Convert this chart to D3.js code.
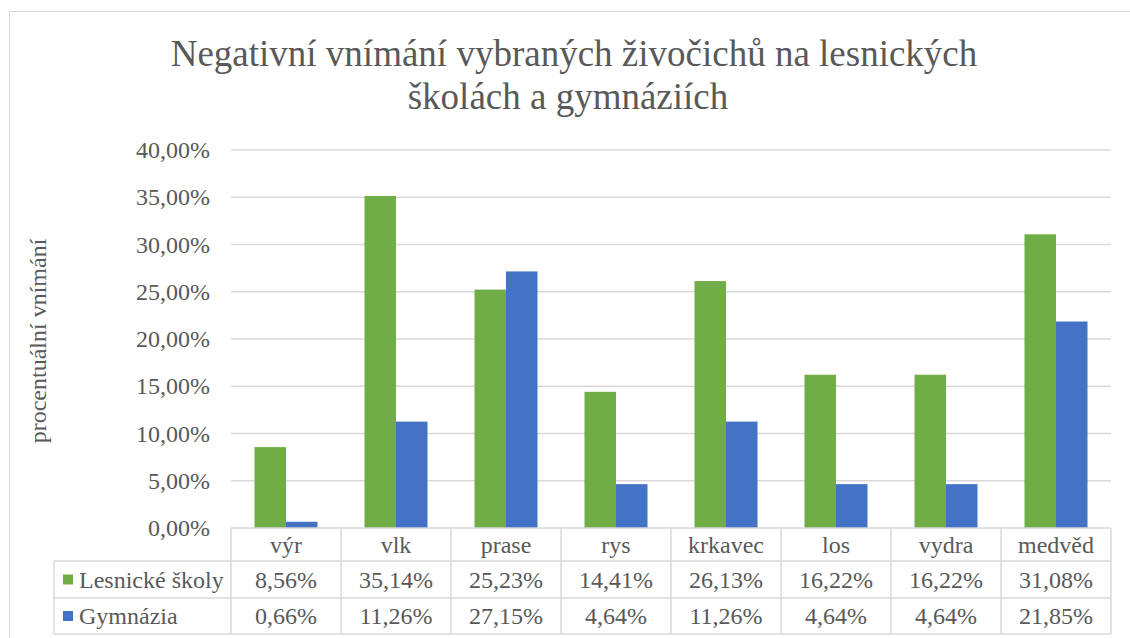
<!DOCTYPE html>
<html>
<head>
<meta charset="utf-8">
<script src="https://cdn.jsdelivr.net/npm/d3@7"></script>
<style>
  body { margin: 0; background: #fff; }
</style>
</head>
<body>
<div id="chart"></div>
<script>
const categories = ["výr", "vlk", "prase", "rys", "krkavec", "los", "vydra", "medvěd"];
const lesnicke = [8.56, 35.14, 25.23, 14.41, 26.13, 16.22, 16.22, 31.08];
const gymnazia = [0.66, 11.26, 27.15, 4.64, 11.26, 4.64, 4.64, 21.85];
const seriesNames = ["Lesnické školy", "Gymnázia"];
const seriesColors = ["#70ad47", "#4472c4"];
const yTicks = [0, 5, 10, 15, 20, 25, 30, 35, 40];

const W = 1130, H = 638;
const plotLeft = 231, plotRight = 1111, plotTop = 150, plotBottom = 528;
const fmt = v => v.toFixed(2).replace(".", ",") + "%";

const svg = d3.select("#chart").append("svg")
  .attr("width", W).attr("height", H);

function label(sel, size) {
  return sel.attr("font-family", "Liberation Serif").attr("font-size", size).attr("fill", "#595959");
}

// outer chart border
svg.append("rect")
  .attr("x", 9.5).attr("y", 11.5)
  .attr("width", W).attr("height", H)
  .attr("fill", "none").attr("stroke", "#d9d9d9");

// title
label(svg.append("text"), 37)
  .attr("x", 574).attr("y", 66)
  .attr("text-anchor", "middle")
  .text("Negativní vnímání vybraných živočichů na lesnických");
label(svg.append("text"), 37)
  .attr("x", 568).attr("y", 109)
  .attr("text-anchor", "middle")
  .text("školách a gymnáziích");

const x = d3.scaleBand().domain(categories).range([plotLeft, plotRight]);
const y = d3.scaleLinear().domain([0, 40]).range([plotBottom, plotTop]);
const barW = 31.5;

// gridlines
svg.append("g").selectAll("line").data(yTicks.filter(d => d > 0)).join("line")
  .attr("x1", plotLeft).attr("x2", plotRight)
  .attr("y1", d => y(d)).attr("y2", d => y(d))
  .attr("stroke", "#d9d9d9").attr("stroke-width", 1.5);

// y tick labels
label(svg.append("g").selectAll("text").data(yTicks).join("text"), 24)
  .attr("x", 210).attr("y", d => y(d) + 8)
  .attr("text-anchor", "end")
  .text(d => fmt(d));

// y axis title
label(svg.append("text"), 24)
  .attr("transform", "translate(46,341) rotate(-90)")
  .attr("text-anchor", "middle")
  .text("procentuální vnímání");

// bars
const series = [lesnicke, gymnazia];
series.forEach((vals, si) => {
  svg.append("g").selectAll("rect").data(vals).join("rect")
    .attr("x", (d, i) => x(categories[i]) + x.bandwidth() / 2 - barW + si * barW)
    .attr("y", d => y(d))
    .attr("width", barW)
    .attr("height", d => plotBottom - y(d))
    .attr("fill", seriesColors[si]);
});

// data table
const rowY = [528, 561, 598, 634];
const legendLeft = 54;
const grid = svg.append("g").attr("stroke", "#d9d9d9").attr("stroke-width", 1.5);
grid.append("line").attr("x1", plotLeft).attr("x2", plotRight).attr("y1", rowY[0]).attr("y2", rowY[0]);
rowY.slice(1).forEach(ry => {
  grid.append("line").attr("x1", legendLeft).attr("x2", plotRight).attr("y1", ry).attr("y2", ry);
});
grid.append("line").attr("x1", legendLeft).attr("x2", legendLeft).attr("y1", rowY[1]).attr("y2", rowY[3]);
const colEdges = categories.map(c => x(c)).concat([plotRight]);
grid.selectAll(".v").data(colEdges).join("line")
  .attr("x1", d => d).attr("x2", d => d)
  .attr("y1", rowY[0]).attr("y2", rowY[3]);

// header
label(svg.append("g").selectAll("text").data(categories).join("text"), 24)
  .attr("x", d => x(d) + x.bandwidth() / 2).attr("y", 553)
  .attr("text-anchor", "middle")
  .text(d => d);

// rows
series.forEach((vals, si) => {
  const cy = (rowY[si + 1] + rowY[si + 2]) / 2;
  svg.append("rect")
    .attr("x", 63).attr("y", cy - 5).attr("width", 10).attr("height", 10)
    .attr("fill", seriesColors[si]);
  label(svg.append("text"), 24)
    .attr("x", 79).attr("y", cy + 8)
    .text(seriesNames[si]);
  label(svg.append("g").selectAll("text").data(vals).join("text"), 24)
    .attr("x", (d, i) => x(categories[i]) + x.bandwidth() / 2).attr("y", cy + 8)
    .attr("text-anchor", "middle")
    .text(d => fmt(d));
});
</script>
</body>
</html>
